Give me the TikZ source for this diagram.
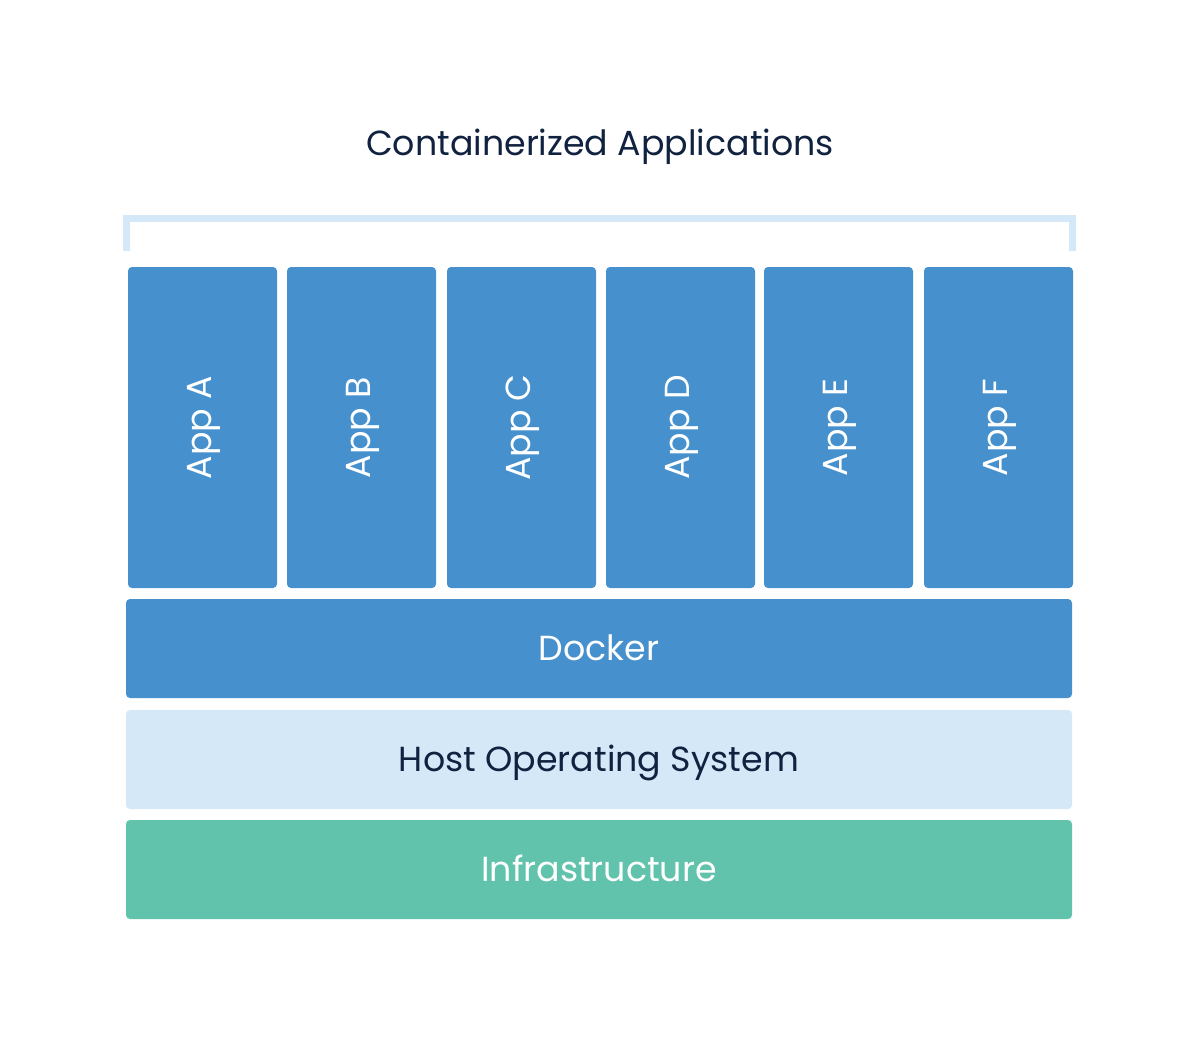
\documentclass[tikz,border=0pt]{standalone}
\usepackage{fontspec}
\setmainfont{Poppins}
\definecolor{appblue}{HTML}{4590CD}
\definecolor{hostblue}{HTML}{D4E8F8}
\definecolor{infragreen}{HTML}{62C3AC}
\definecolor{navy}{HTML}{10223F}
\tikzset{
  layer/.style={fill=#1, rounded corners=4pt},
  appbox/.style={fill=appblue, rounded corners=4pt},
  lbl/.style={font=\fontsize{34.8}{40}\selectfont, text height=0.72em, text depth=0pt, inner sep=0pt},
}
\begin{document}
\begin{tikzpicture}[x=1pt,y=-1pt]
\useasboundingbox (0,0) rectangle (1200,1039);
\node[lbl, text=navy] (title) at (600,152) {Containerized Applications};
\draw[hostblue, line width=7pt] (126.5,251) -- (126.5,218.5) -- (1072.5,218.5) -- (1072.5,251);
\foreach \n/\x/\t in {a/128/A,b/287/B,c/447/C,d/606/D,e/764/E,f/924/F}{
  \fill[appbox] (\x,267) rectangle ++(149,321);
  \node[lbl, text=white, rotate=90] (app\n) at (\x+80,427.5) {App \t};
}
\fill[layer=appblue] (126,599) rectangle (1072,698);
\node[lbl, text=white] (docker) at (599,657) {Docker};
\fill[layer=hostblue] (126,710) rectangle (1072,809);
\node[lbl, text=navy] (host) at (599,768) {Host Operating System};
\fill[layer=infragreen] (126,820) rectangle (1072,919);
\node[lbl, text=white] (infra) at (599,878) {Infrastructure};
\end{tikzpicture}
\end{document}
